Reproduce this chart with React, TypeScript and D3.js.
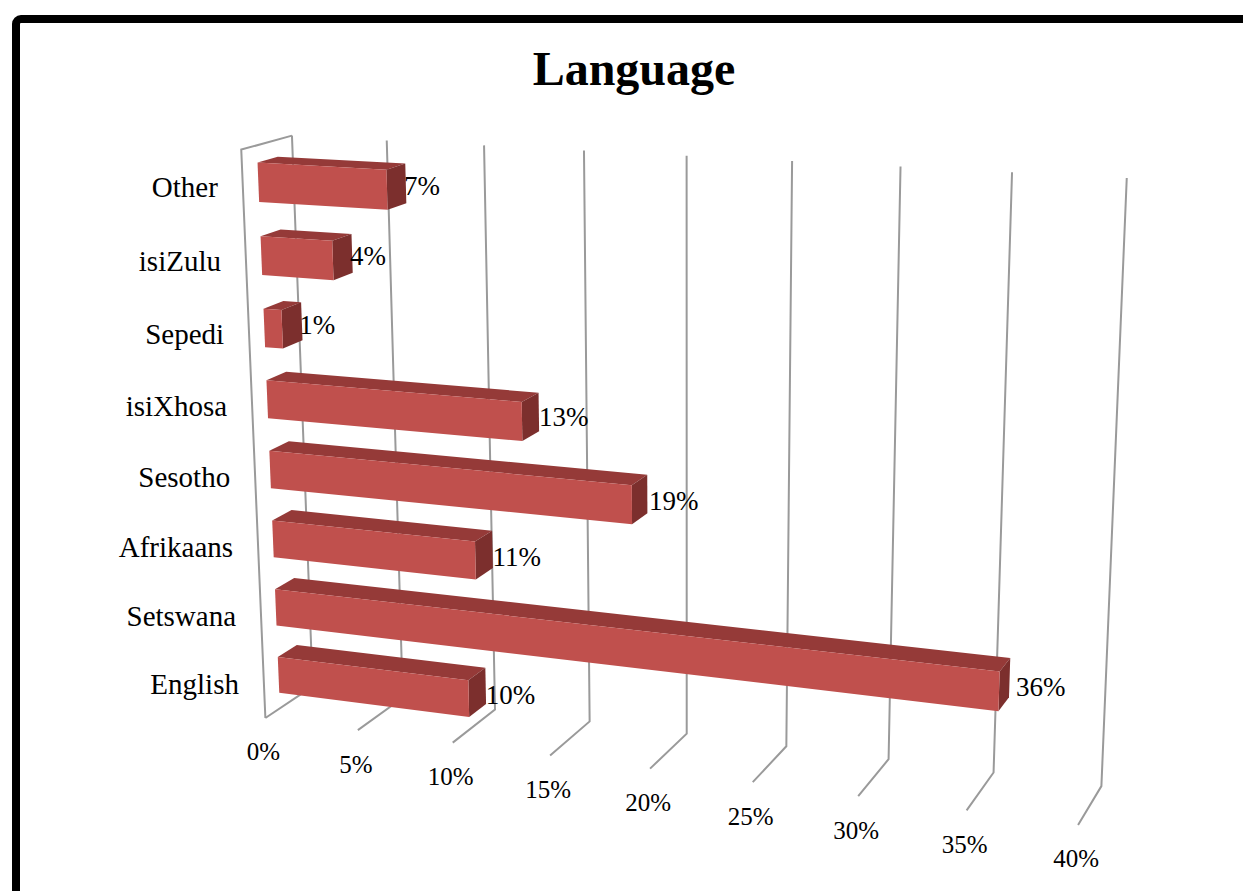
import React from 'react';
import * as d3 from 'd3';

// ---------- data ----------
const title = 'Language';
const categories = ['English', 'Setswana', 'Afrikaans', 'Sesotho', 'isiXhosa', 'Sepedi', 'isiZulu', 'Other'];
// bar lengths (labels show the rounded values)
const values = [10.2, 35.95, 10.7, 18.6, 13.2, 0.95, 3.75, 6.65];
const valueLabels = ['10%', '36%', '11%', '19%', '13%', '1%', '4%', '7%'];
const tickValues = [0, 5, 10, 15, 20, 25, 30, 35, 40];
const tickLabels = ['0%', '5%', '10%', '15%', '20%', '25%', '30%', '35%', '40%'];

// ---------- layout / camera ----------
const W = 1243;
const H = 891;
// Frame anchors of the 3-D plot box: [value%, height(0..1), depth(0 front..1 back), screenX, screenY]
const CAMERA_ANCHORS: number[][] = [
  [0, 1, 1, 292, 136], [5, 1, 1, 387, 140], [10, 1, 1, 484, 145], [15, 1, 1, 584, 150], [20, 1, 1, 687, 156],
  [25, 1, 1, 792, 161], [30, 1, 1, 900, 167], [35, 1, 1, 1012, 172], [40, 1, 1, 1127, 178],
  [10, 0, 1, 495, 709], [15, 0, 1, 590, 722], [20, 0, 1, 687, 733], [25, 0, 1, 786, 747],
  [30, 0, 1, 888, 760], [35, 0, 1, 993, 772], [40, 0, 1, 1102, 786],
  [0, 0, 0, 265, 718], [5, 0, 0, 358, 730], [10, 0, 0, 453, 743], [15, 0, 0, 550, 755], [20, 0, 0, 650, 769],
  [25, 0, 0, 753, 782], [30, 0, 0, 858, 796], [35, 0, 0, 967, 810], [40, 0, 0, 1078, 825],
  [0, 1, 0, 241, 150],
];
const U0 = 650, V0 = 450, S = 500, XMAX = 40;
const BAR_Z0 = 0.3, BAR_Z1 = 0.7;

function fitCamera(anchors: number[][]): number[] {
  const n = 11;
  const M: number[][] = Array.from({ length: n }, () => new Array(n + 1).fill(0));
  const add = (r: number[], b: number) => {
    for (let i = 0; i < n; i++) {
      for (let j = 0; j < n; j++) M[i][j] += r[i] * r[j];
      M[i][n] += r[i] * b;
    }
  };
  for (const [x, y, z, u, v] of anchors) {
    const X = x / XMAX;
    const un = (u - U0) / S, vn = (v - V0) / S;
    add([X, y, z, 1, 0, 0, 0, 0, -un * X, -un * y, -un * z], un);
    add([0, 0, 0, 0, X, y, z, 1, -vn * X, -vn * y, -vn * z], vn);
  }
  for (let c = 0; c < n; c++) {
    let piv = c;
    for (let r = c + 1; r < n; r++) if (Math.abs(M[r][c]) > Math.abs(M[piv][c])) piv = r;
    [M[c], M[piv]] = [M[piv], M[c]];
    for (let r = 0; r < n; r++) {
      if (r === c) continue;
      const f = M[r][c] / M[c][c];
      for (let k = c; k <= n; k++) M[r][k] -= f * M[c][k];
    }
  }
  return M.map((row, i) => row[n] / row[i]);
}

const P = fitCamera(CAMERA_ANCHORS);
const xScale = d3.scaleLinear().domain([0, XMAX]).range([0, XMAX]);

function proj(value: number, y: number, z: number): [number, number] {
  const X = xScale(value) / XMAX;
  const w = P[8] * X + P[9] * y + P[10] * z + 1;
  const un = (P[0] * X + P[1] * y + P[2] * z + P[3]) / w;
  const vn = (P[4] * X + P[5] * y + P[6] * z + P[7]) / w;
  return [U0 + S * un, V0 + S * vn];
}

const barBand = d3.scaleBand<string>().domain(categories).range([0, 1]).paddingInner(0.465).paddingOuter(0.2325);
const slotBand = d3.scaleBand<string>().domain(categories).range([0, 1]);

const lineGen = d3.line<[number, number]>();
const poly = (pts: [number, number][]) => lineGen(pts) + 'Z';

const GRID = '#9a9a9a';
const FRONT = '#C0504D';
const TOP = '#953A38';
const SIDE = '#7C2F2D';
const SERIF = '"Liberation Serif", "Times New Roman", serif';

export default function App() {
  const grid: JSX.Element[] = [];
  tickValues.forEach((t, i) => {
    const pts: [number, number][] = [proj(t, 1, 1), proj(t, 0, 1), proj(t, 0, 0)];
    grid.push(<path key={'g' + i} d={lineGen(pts) || ''} fill="none" stroke={GRID} strokeWidth={2} />);
  });
  // left wall: front edge and top edge
  grid.push(
    <path key="wall" d={lineGen([proj(0, 1, 1), proj(0, 1, 0), proj(0, 0, 0)]) || ''} fill="none" stroke={GRID} strokeWidth={2} />
  );

  const bars = categories.map((c, i) => {
    const y0 = barBand(c)!;
    const y1 = y0 + barBand.bandwidth();
    const x1 = values[i];
    const front = poly([proj(0, y0, BAR_Z0), proj(x1, y0, BAR_Z0), proj(x1, y1, BAR_Z0), proj(0, y1, BAR_Z0)]);
    const top = poly([proj(0, y1, BAR_Z0), proj(x1, y1, BAR_Z0), proj(x1, y1, BAR_Z1), proj(0, y1, BAR_Z1)]);
    const side = poly([proj(x1, y0, BAR_Z0), proj(x1, y0, BAR_Z1), proj(x1, y1, BAR_Z1), proj(x1, y1, BAR_Z0)]);
    return (
      <g key={c}>
        <path d={top} fill={TOP} />
        <path d={side} fill={SIDE} />
        <path d={front} fill={FRONT} />
      </g>
    );
  });

  const valueTexts = categories.map((c, i) => {
    const y0 = barBand(c)!;
    const y1 = y0 + barBand.bandwidth();
    const a = proj(values[i], y0, BAR_Z0);
    const b = proj(values[i], y1, BAR_Z0);
    return (
      <text key={'v' + c} x={(a[0] + b[0]) / 2 + 17} y={(a[1] + b[1]) / 2 - 4} fontSize={27}
        fontFamily={SERIF} dominantBaseline="central" fill="#000">{valueLabels[i]}</text>
    );
  });

  const catTexts = categories.map((c) => {
    const yc = slotBand(c)! + slotBand.bandwidth() / 2;
    const p = proj(0, yc, 0);
    return (
      <text key={'c' + c} x={p[0] - 25} y={p[1]} fontSize={29} fontFamily={SERIF}
        textAnchor="end" dominantBaseline="central" fill="#000">{c}</text>
    );
  });

  const tickTexts = tickValues.map((t, i) => {
    const p = proj(t, 0, 0);
    return (
      <text key={'t' + t} x={p[0] - 2} y={p[1] + 34} fontSize={25} fontFamily={SERIF}
        textAnchor="middle" dominantBaseline="central" fill="#000">{tickLabels[i]}</text>
    );
  });

  return (
    <svg width={W} height={H} viewBox={`0 0 ${W} ${H}`}
      style={{ position: 'absolute', left: 0, top: 0, background: '#fff', display: 'block' }}>
      <rect x={0} y={0} width={W} height={H} fill="#fff" />
      <rect x={16} y={19} width={1400} height={1000} rx={5} fill="none" stroke="#000" strokeWidth={8} />
      <text x={634} y={85} textAnchor="middle" fontSize={48} fontWeight="bold" fontFamily={SERIF} fill="#000">{title}</text>
      {grid}
      {bars}
      {valueTexts}
      {catTexts}
      {tickTexts}
    </svg>
  );
}
